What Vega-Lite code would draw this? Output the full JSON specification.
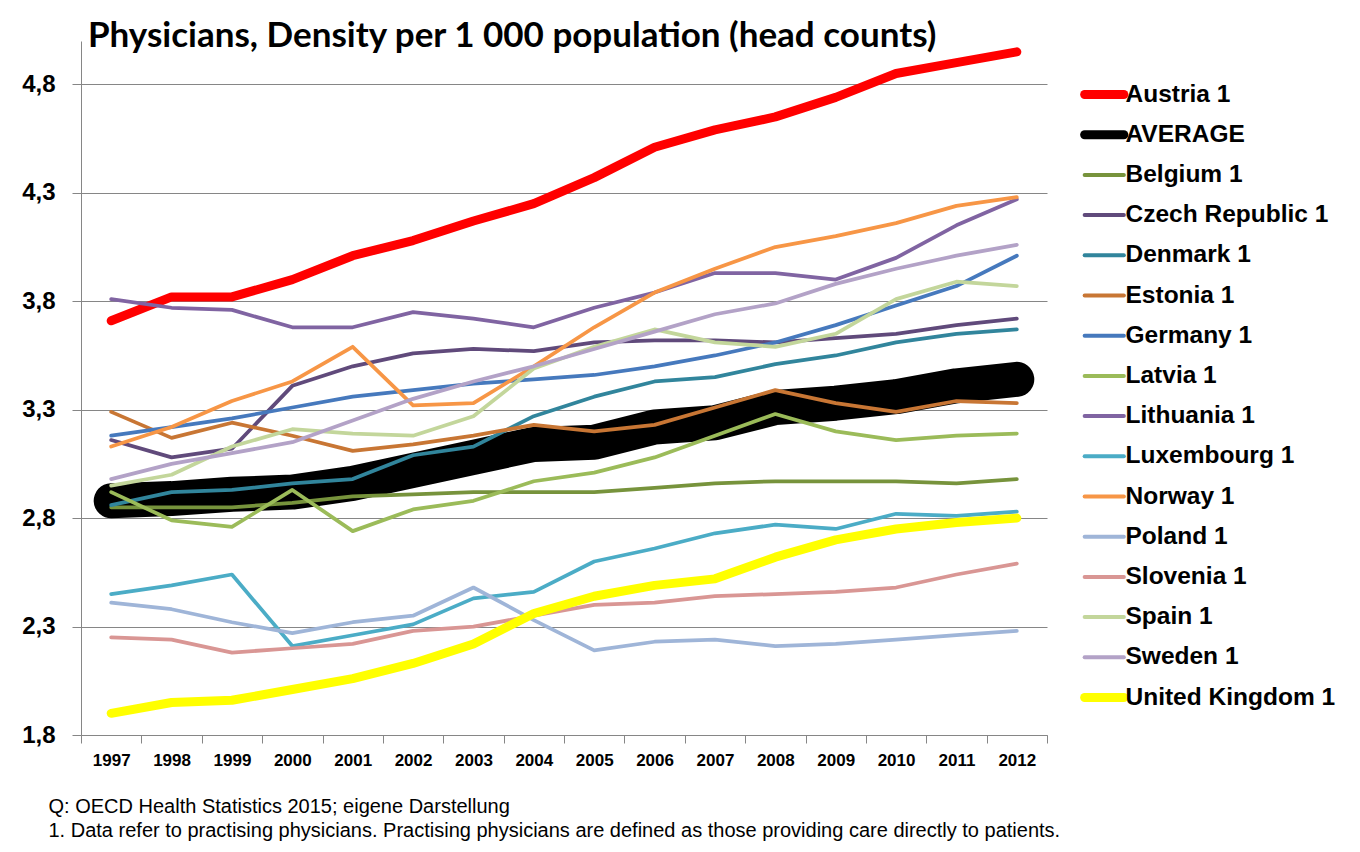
{
  "$schema": "https://vega.github.io/schema/vega-lite/v6.json",
  "width": 966,
  "height": 694,
  "autosize": "none",
  "padding": {"left": 81, "top": 41, "right": 313, "bottom": 117},
  "background": "white",
  "title": {
    "text": "Physicians, Density per 1 000 population (head counts)",
    "anchor": "start",
    "frame": "group",
    "font": "Lato",
    "fontSize": 35,
    "fontWeight": "bold",
    "color": "black",
    "baseline": "alphabetic",
    "offset": -41,
    "dx": 7
  },
  "data": {"values": [
    {"country":"Austria 1","year":"1997","value":3.71},{"country":"Austria 1","year":"1998","value":3.82},{"country":"Austria 1","year":"1999","value":3.82},{"country":"Austria 1","year":"2000","value":3.90},{"country":"Austria 1","year":"2001","value":4.01},{"country":"Austria 1","year":"2002","value":4.08},{"country":"Austria 1","year":"2003","value":4.17},{"country":"Austria 1","year":"2004","value":4.25},{"country":"Austria 1","year":"2005","value":4.37},{"country":"Austria 1","year":"2006","value":4.51},{"country":"Austria 1","year":"2007","value":4.59},{"country":"Austria 1","year":"2008","value":4.65},{"country":"Austria 1","year":"2009","value":4.74},{"country":"Austria 1","year":"2010","value":4.85},{"country":"Austria 1","year":"2011","value":4.90},{"country":"Austria 1","year":"2012","value":4.95},
    {"country":"AVERAGE","year":"1997","value":2.88},{"country":"AVERAGE","year":"1998","value":2.89},{"country":"AVERAGE","year":"1999","value":2.91},{"country":"AVERAGE","year":"2000","value":2.92},{"country":"AVERAGE","year":"2001","value":2.96},{"country":"AVERAGE","year":"2002","value":3.02},{"country":"AVERAGE","year":"2003","value":3.08},{"country":"AVERAGE","year":"2004","value":3.14},{"country":"AVERAGE","year":"2005","value":3.15},{"country":"AVERAGE","year":"2006","value":3.22},{"country":"AVERAGE","year":"2007","value":3.24},{"country":"AVERAGE","year":"2008","value":3.31},{"country":"AVERAGE","year":"2009","value":3.33},{"country":"AVERAGE","year":"2010","value":3.36},{"country":"AVERAGE","year":"2011","value":3.41},{"country":"AVERAGE","year":"2012","value":3.44},
    {"country":"Belgium 1","year":"1997","value":2.85},{"country":"Belgium 1","year":"1998","value":2.85},{"country":"Belgium 1","year":"1999","value":2.85},{"country":"Belgium 1","year":"2000","value":2.87},{"country":"Belgium 1","year":"2001","value":2.90},{"country":"Belgium 1","year":"2002","value":2.91},{"country":"Belgium 1","year":"2003","value":2.92},{"country":"Belgium 1","year":"2004","value":2.92},{"country":"Belgium 1","year":"2005","value":2.92},{"country":"Belgium 1","year":"2006","value":2.94},{"country":"Belgium 1","year":"2007","value":2.96},{"country":"Belgium 1","year":"2008","value":2.97},{"country":"Belgium 1","year":"2009","value":2.97},{"country":"Belgium 1","year":"2010","value":2.97},{"country":"Belgium 1","year":"2011","value":2.96},{"country":"Belgium 1","year":"2012","value":2.98},
    {"country":"Czech Republic 1","year":"1997","value":3.16},{"country":"Czech Republic 1","year":"1998","value":3.08},{"country":"Czech Republic 1","year":"1999","value":3.12},{"country":"Czech Republic 1","year":"2000","value":3.41},{"country":"Czech Republic 1","year":"2001","value":3.50},{"country":"Czech Republic 1","year":"2002","value":3.56},{"country":"Czech Republic 1","year":"2003","value":3.58},{"country":"Czech Republic 1","year":"2004","value":3.57},{"country":"Czech Republic 1","year":"2005","value":3.61},{"country":"Czech Republic 1","year":"2006","value":3.62},{"country":"Czech Republic 1","year":"2007","value":3.62},{"country":"Czech Republic 1","year":"2008","value":3.61},{"country":"Czech Republic 1","year":"2009","value":3.63},{"country":"Czech Republic 1","year":"2010","value":3.65},{"country":"Czech Republic 1","year":"2011","value":3.69},{"country":"Czech Republic 1","year":"2012","value":3.72},
    {"country":"Denmark 1","year":"1997","value":2.86},{"country":"Denmark 1","year":"1998","value":2.92},{"country":"Denmark 1","year":"1999","value":2.93},{"country":"Denmark 1","year":"2000","value":2.96},{"country":"Denmark 1","year":"2001","value":2.98},{"country":"Denmark 1","year":"2002","value":3.09},{"country":"Denmark 1","year":"2003","value":3.13},{"country":"Denmark 1","year":"2004","value":3.27},{"country":"Denmark 1","year":"2005","value":3.36},{"country":"Denmark 1","year":"2006","value":3.43},{"country":"Denmark 1","year":"2007","value":3.45},{"country":"Denmark 1","year":"2008","value":3.51},{"country":"Denmark 1","year":"2009","value":3.55},{"country":"Denmark 1","year":"2010","value":3.61},{"country":"Denmark 1","year":"2011","value":3.65},{"country":"Denmark 1","year":"2012","value":3.67},
    {"country":"Estonia 1","year":"1997","value":3.29},{"country":"Estonia 1","year":"1998","value":3.17},{"country":"Estonia 1","year":"1999","value":3.24},{"country":"Estonia 1","year":"2000","value":3.18},{"country":"Estonia 1","year":"2001","value":3.11},{"country":"Estonia 1","year":"2002","value":3.14},{"country":"Estonia 1","year":"2003","value":3.18},{"country":"Estonia 1","year":"2004","value":3.23},{"country":"Estonia 1","year":"2005","value":3.20},{"country":"Estonia 1","year":"2006","value":3.23},{"country":"Estonia 1","year":"2007","value":3.31},{"country":"Estonia 1","year":"2008","value":3.39},{"country":"Estonia 1","year":"2009","value":3.33},{"country":"Estonia 1","year":"2010","value":3.29},{"country":"Estonia 1","year":"2011","value":3.34},{"country":"Estonia 1","year":"2012","value":3.33},
    {"country":"Germany 1","year":"1997","value":3.18},{"country":"Germany 1","year":"1998","value":3.22},{"country":"Germany 1","year":"1999","value":3.26},{"country":"Germany 1","year":"2000","value":3.31},{"country":"Germany 1","year":"2001","value":3.36},{"country":"Germany 1","year":"2002","value":3.39},{"country":"Germany 1","year":"2003","value":3.42},{"country":"Germany 1","year":"2004","value":3.44},{"country":"Germany 1","year":"2005","value":3.46},{"country":"Germany 1","year":"2006","value":3.50},{"country":"Germany 1","year":"2007","value":3.55},{"country":"Germany 1","year":"2008","value":3.61},{"country":"Germany 1","year":"2009","value":3.69},{"country":"Germany 1","year":"2010","value":3.78},{"country":"Germany 1","year":"2011","value":3.87},{"country":"Germany 1","year":"2012","value":4.01},
    {"country":"Latvia 1","year":"1997","value":2.92},{"country":"Latvia 1","year":"1998","value":2.79},{"country":"Latvia 1","year":"1999","value":2.76},{"country":"Latvia 1","year":"2000","value":2.93},{"country":"Latvia 1","year":"2001","value":2.74},{"country":"Latvia 1","year":"2002","value":2.84},{"country":"Latvia 1","year":"2003","value":2.88},{"country":"Latvia 1","year":"2004","value":2.97},{"country":"Latvia 1","year":"2005","value":3.01},{"country":"Latvia 1","year":"2006","value":3.08},{"country":"Latvia 1","year":"2007","value":3.18},{"country":"Latvia 1","year":"2008","value":3.28},{"country":"Latvia 1","year":"2009","value":3.20},{"country":"Latvia 1","year":"2010","value":3.16},{"country":"Latvia 1","year":"2011","value":3.18},{"country":"Latvia 1","year":"2012","value":3.19},
    {"country":"Lithuania 1","year":"1997","value":3.81},{"country":"Lithuania 1","year":"1998","value":3.77},{"country":"Lithuania 1","year":"1999","value":3.76},{"country":"Lithuania 1","year":"2000","value":3.68},{"country":"Lithuania 1","year":"2001","value":3.68},{"country":"Lithuania 1","year":"2002","value":3.75},{"country":"Lithuania 1","year":"2003","value":3.72},{"country":"Lithuania 1","year":"2004","value":3.68},{"country":"Lithuania 1","year":"2005","value":3.77},{"country":"Lithuania 1","year":"2006","value":3.84},{"country":"Lithuania 1","year":"2007","value":3.93},{"country":"Lithuania 1","year":"2008","value":3.93},{"country":"Lithuania 1","year":"2009","value":3.90},{"country":"Lithuania 1","year":"2010","value":4.00},{"country":"Lithuania 1","year":"2011","value":4.15},{"country":"Lithuania 1","year":"2012","value":4.27},
    {"country":"Luxembourg 1","year":"1997","value":2.45},{"country":"Luxembourg 1","year":"1998","value":2.49},{"country":"Luxembourg 1","year":"1999","value":2.54},{"country":"Luxembourg 1","year":"2000","value":2.21},{"country":"Luxembourg 1","year":"2001","value":2.26},{"country":"Luxembourg 1","year":"2002","value":2.31},{"country":"Luxembourg 1","year":"2003","value":2.43},{"country":"Luxembourg 1","year":"2004","value":2.46},{"country":"Luxembourg 1","year":"2005","value":2.60},{"country":"Luxembourg 1","year":"2006","value":2.66},{"country":"Luxembourg 1","year":"2007","value":2.73},{"country":"Luxembourg 1","year":"2008","value":2.77},{"country":"Luxembourg 1","year":"2009","value":2.75},{"country":"Luxembourg 1","year":"2010","value":2.82},{"country":"Luxembourg 1","year":"2011","value":2.81},{"country":"Luxembourg 1","year":"2012","value":2.83},
    {"country":"Norway 1","year":"1997","value":3.13},{"country":"Norway 1","year":"1998","value":3.22},{"country":"Norway 1","year":"1999","value":3.34},{"country":"Norway 1","year":"2000","value":3.43},{"country":"Norway 1","year":"2001","value":3.59},{"country":"Norway 1","year":"2002","value":3.32},{"country":"Norway 1","year":"2003","value":3.33},{"country":"Norway 1","year":"2004","value":3.50},{"country":"Norway 1","year":"2005","value":3.68},{"country":"Norway 1","year":"2006","value":3.84},{"country":"Norway 1","year":"2007","value":3.95},{"country":"Norway 1","year":"2008","value":4.05},{"country":"Norway 1","year":"2009","value":4.10},{"country":"Norway 1","year":"2010","value":4.16},{"country":"Norway 1","year":"2011","value":4.24},{"country":"Norway 1","year":"2012","value":4.28},
    {"country":"Poland 1","year":"1997","value":2.41},{"country":"Poland 1","year":"1998","value":2.38},{"country":"Poland 1","year":"1999","value":2.32},{"country":"Poland 1","year":"2000","value":2.27},{"country":"Poland 1","year":"2001","value":2.32},{"country":"Poland 1","year":"2002","value":2.35},{"country":"Poland 1","year":"2003","value":2.48},{"country":"Poland 1","year":"2004","value":2.33},{"country":"Poland 1","year":"2005","value":2.19},{"country":"Poland 1","year":"2006","value":2.23},{"country":"Poland 1","year":"2007","value":2.24},{"country":"Poland 1","year":"2008","value":2.21},{"country":"Poland 1","year":"2009","value":2.22},{"country":"Poland 1","year":"2010","value":2.24},{"country":"Poland 1","year":"2011","value":2.26},{"country":"Poland 1","year":"2012","value":2.28},
    {"country":"Slovenia 1","year":"1997","value":2.25},{"country":"Slovenia 1","year":"1998","value":2.24},{"country":"Slovenia 1","year":"1999","value":2.18},{"country":"Slovenia 1","year":"2000","value":2.20},{"country":"Slovenia 1","year":"2001","value":2.22},{"country":"Slovenia 1","year":"2002","value":2.28},{"country":"Slovenia 1","year":"2003","value":2.30},{"country":"Slovenia 1","year":"2004","value":2.35},{"country":"Slovenia 1","year":"2005","value":2.40},{"country":"Slovenia 1","year":"2006","value":2.41},{"country":"Slovenia 1","year":"2007","value":2.44},{"country":"Slovenia 1","year":"2008","value":2.45},{"country":"Slovenia 1","year":"2009","value":2.46},{"country":"Slovenia 1","year":"2010","value":2.48},{"country":"Slovenia 1","year":"2011","value":2.54},{"country":"Slovenia 1","year":"2012","value":2.59},
    {"country":"Spain 1","year":"1997","value":2.95},{"country":"Spain 1","year":"1998","value":3.00},{"country":"Spain 1","year":"1999","value":3.13},{"country":"Spain 1","year":"2000","value":3.21},{"country":"Spain 1","year":"2001","value":3.19},{"country":"Spain 1","year":"2002","value":3.18},{"country":"Spain 1","year":"2003","value":3.27},{"country":"Spain 1","year":"2004","value":3.49},{"country":"Spain 1","year":"2005","value":3.59},{"country":"Spain 1","year":"2006","value":3.67},{"country":"Spain 1","year":"2007","value":3.61},{"country":"Spain 1","year":"2008","value":3.59},{"country":"Spain 1","year":"2009","value":3.65},{"country":"Spain 1","year":"2010","value":3.81},{"country":"Spain 1","year":"2011","value":3.89},{"country":"Spain 1","year":"2012","value":3.87},
    {"country":"Sweden 1","year":"1997","value":2.98},{"country":"Sweden 1","year":"1998","value":3.05},{"country":"Sweden 1","year":"1999","value":3.10},{"country":"Sweden 1","year":"2000","value":3.15},{"country":"Sweden 1","year":"2001","value":3.25},{"country":"Sweden 1","year":"2002","value":3.35},{"country":"Sweden 1","year":"2003","value":3.43},{"country":"Sweden 1","year":"2004","value":3.50},{"country":"Sweden 1","year":"2005","value":3.58},{"country":"Sweden 1","year":"2006","value":3.66},{"country":"Sweden 1","year":"2007","value":3.74},{"country":"Sweden 1","year":"2008","value":3.79},{"country":"Sweden 1","year":"2009","value":3.88},{"country":"Sweden 1","year":"2010","value":3.95},{"country":"Sweden 1","year":"2011","value":4.01},{"country":"Sweden 1","year":"2012","value":4.06},
    {"country":"United Kingdom 1","year":"1997","value":1.90},{"country":"United Kingdom 1","year":"1998","value":1.95},{"country":"United Kingdom 1","year":"1999","value":1.96},{"country":"United Kingdom 1","year":"2000","value":2.01},{"country":"United Kingdom 1","year":"2001","value":2.06},{"country":"United Kingdom 1","year":"2002","value":2.13},{"country":"United Kingdom 1","year":"2003","value":2.22},{"country":"United Kingdom 1","year":"2004","value":2.36},{"country":"United Kingdom 1","year":"2005","value":2.44},{"country":"United Kingdom 1","year":"2006","value":2.49},{"country":"United Kingdom 1","year":"2007","value":2.52},{"country":"United Kingdom 1","year":"2008","value":2.62},{"country":"United Kingdom 1","year":"2009","value":2.70},{"country":"United Kingdom 1","year":"2010","value":2.75},{"country":"United Kingdom 1","year":"2011","value":2.78},{"country":"United Kingdom 1","year":"2012","value":2.80}
  ]},
  "encoding": {
    "x": {
      "field": "year",
      "type": "ordinal",
      "bandPosition": 0.5,
      "scale": {"type": "band", "paddingInner": 0, "paddingOuter": 0},
      "axis": {
        "title": ["Q: OECD Health Statistics 2015; eigene Darstellung", "1. Data refer to practising physicians. Practising physicians are defined as those providing care directly to patients."],
        "titleFont": "Liberation Sans",
        "titleFontSize": 20,
        "titleFontWeight": "normal",
        "titleColor": "black",
        "titleAnchor": "start",
        "titleAlign": "left",
        "titleBaseline": "alphabetic",
        "titleLineHeight": 24,
        "titleX": -33,
        "titleY": 77,
        "labelAngle": 0,
        "labelFont": "Liberation Sans",
        "labelFontWeight": "bold",
        "labelFontSize": 17,
        "labelColor": "black",
        "labelPadding": 9,
        "tickBand": "extent",
        "tickSize": 8,
        "tickColor": "#868686",
        "domainColor": "#868686",
        "grid": false
      }
    },
    "y": {
      "field": "value",
      "type": "quantitative",
      "scale": {"domain": [1.8, 5.0], "nice": false, "zero": false},
      "axis": {
        "title": null,
        "values": [1.8, 2.3, 2.8, 3.3, 3.8, 4.3, 4.8],
        "labelExpr": "replace(format(datum.value, '.1f'), '.', ',')",
        "labelFont": "Liberation Sans",
        "labelFontWeight": "bold",
        "labelFontSize": 24,
        "labelColor": "black",
        "labelPadding": 17,
        "tickSize": 9,
        "tickColor": "#868686",
        "domainColor": "#868686",
        "gridColor": "#868686",
        "grid": true
      }
    },
    "color": {
      "field": "country",
      "type": "nominal",
      "scale": {
        "domain": ["Austria 1", "AVERAGE", "Belgium 1", "Czech Republic 1", "Denmark 1", "Estonia 1", "Germany 1", "Latvia 1", "Lithuania 1", "Luxembourg 1", "Norway 1", "Poland 1", "Slovenia 1", "Spain 1", "Sweden 1", "United Kingdom 1"],
        "range": ["#FF0000", "#000000", "#77933C", "#604A7B", "#31859C", "#C87634", "#4679BD", "#9BBB59", "#8064A2", "#4BACC6", "#F79646", "#9FB5D8", "#D99694", "#C3D69B", "#B3A2C7", "#FFFF00"]
      },
      "legend": {
        "orient": "none",
        "direction": "vertical",
        "legendX": 992,
        "legendY": 40.5,
        "title": null,
        "padding": 0,
        "symbolType": "M-2.8,0H2.8",
        "symbolSize": 196,
        "symbolStrokeWidth": 4,
        "symbolOffset": 19,
        "clipHeight": 26,
        "labelFont": "Liberation Sans",
        "labelFontWeight": "bold",
        "labelFontSize": 24.5,
        "labelColor": "black",
        "labelOffset": 9,
        "labelLimit": 400,
        "rowPadding": 14.2,
        "encode": {
          "symbols": {
            "update": {
              "strokeWidth": {"signal": "indexof(['Austria 1', 'AVERAGE', 'United Kingdom 1'], datum.value) >= 0 ? 9 : 4"},
              "strokeCap": {"value": "round"}
            }
          }
        }
      }
    }
  },
  "layer": [
    {
      "transform": [{"filter": {"field": "country", "equal": "Austria 1"}}],
      "mark": {"type": "line", "strokeWidth": 9, "strokeCap": "round", "strokeJoin": "round"}
    },
    {
      "transform": [{"filter": {"field": "country", "equal": "AVERAGE"}}],
      "mark": {"type": "line", "strokeWidth": 35, "strokeCap": "round", "strokeJoin": "round"}
    },
    {
      "transform": [{"filter": {"not": {"field": "country", "oneOf": ["Austria 1", "AVERAGE", "United Kingdom 1"]}}}],
      "mark": {"type": "line", "strokeWidth": 3.75, "strokeCap": "round", "strokeJoin": "round"}
    },
    {
      "transform": [{"filter": {"field": "country", "equal": "United Kingdom 1"}}],
      "mark": {"type": "line", "strokeWidth": 9, "strokeCap": "round", "strokeJoin": "round"}
    }
  ],
  "config": {
    "view": {"stroke": null}
  }
}
